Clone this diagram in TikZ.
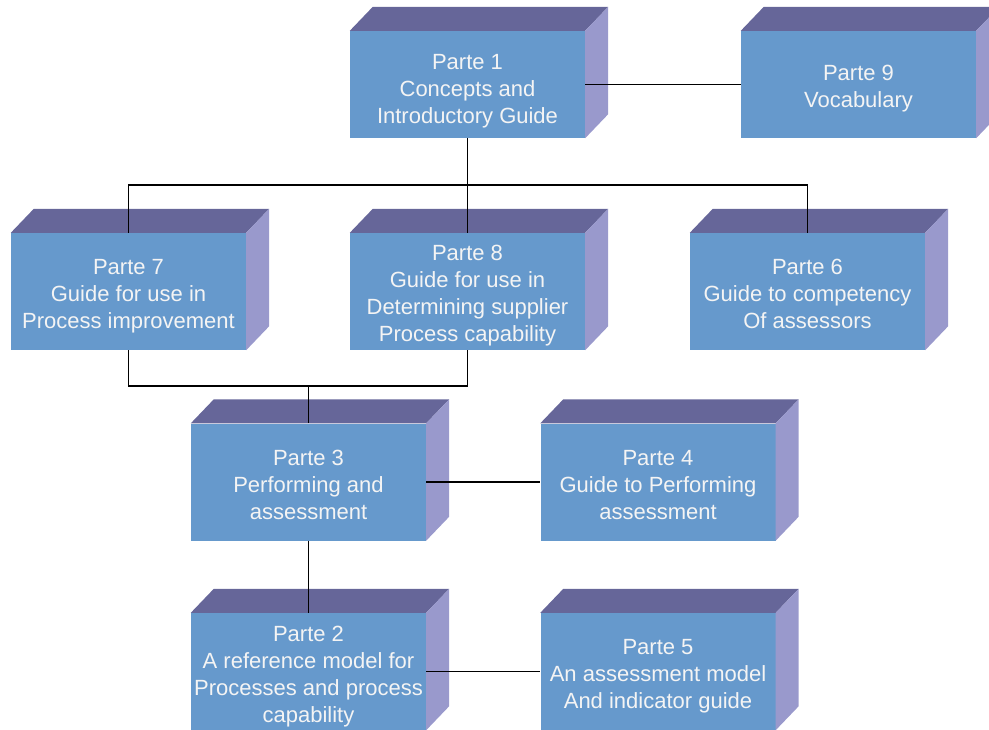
\documentclass[tikz,border=0pt]{standalone}
\usepackage{fontspec}
\setmainfont{Liberation Sans}
\definecolor{frontc}{RGB}{102,153,204}
\definecolor{topc}{RGB}{102,102,153}
\definecolor{sidec}{RGB}{153,153,204}
\definecolor{labelc}{RGB}{244,244,244}
% invisible strut that lowers a label inside its face
\newcommand{\lowerby}[1]{\rule{0pt}{#1}}
\tikzset{
  partbox/.style={rectangle, fill=frontc, inner sep=0pt, minimum width=235pt,
    minimum height=117pt, align=center, text=labelc,
    font=\fontsize{22}{27}\selectfont},
  shortbox/.style={partbox, minimum height=107pt},
  link/.style={draw=black, line width=1.5pt}
}
\begin{document}
\begin{tikzpicture}[x=1pt, y=-1pt]
  \useasboundingbox (0,0) rectangle (989,730);
  \clip (0,0) rectangle (989,730);

  % front faces of the parts
  \node[shortbox] (p1) at (467.5,84.5) {\lowerby{28pt}Parte 1\\Concepts and\\Introductory Guide};
  \node[shortbox] (p9) at (858.5,84.5) {\lowerby{24pt}Parte 9\\Vocabulary};
  \node[partbox] (p7) at (128.5,291.5) {\lowerby{24pt}Parte 7\\Guide for use in\\Process improvement};
  \node[partbox] (p8) at (467.5,291.5) {\lowerby{24pt}Parte 8\\Guide for use in\\Determining supplier\\Process capability};
  \node[partbox] (p6) at (807.5,291.5) {\lowerby{20pt}Parte 6\\Guide to competency\\Of assessors};
  \node[partbox] (p3) at (308.5,482) {\lowerby{21pt}Parte 3\\Performing and\\assessment};
  \node[partbox] (p4) at (658,482) {\lowerby{21pt}Parte 4\\Guide to Performing\\assessment};
  \node[partbox] (p2) at (308.5,671.5) {\lowerby{26pt}Parte 2\\A reference model for\\Processes and process\\capability};
  \node[partbox] (p5) at (658,671.5) {\lowerby{24pt}Parte 5\\An assessment model\\And indicator guide};

  % top and side faces giving each part its depth
  \foreach \n in {p1,p9,p7,p8,p6,p3,p4,p2,p5} {
    \fill[topc] (\n.north west) -- ++(23pt,24pt)
      -- ([shift={(23pt,24pt)}]\n.north east) -- (\n.north east) -- cycle;
    \fill[sidec] (\n.north east) -- ++(23pt,24pt)
      -- ([shift={(23pt,24pt)}]\n.south east) -- (\n.south east) -- cycle;
  }

  % connectors
  \coordinate (j1) at (467.5,185);
  \coordinate (j2) at (308.5,386);
  \draw[link] (p1.east) -- (p9.west);
  \draw[link] (p1.south) -- (j1);
  \draw[link] (p7.north) |- (j1) -| (p6.north);
  \draw[link] (j1) -- (p8.north);
  \draw[link] (p7.south) |- (j2) -| (p8.south);
  \draw[link] (j2) -- (p3.north);
  \draw[link] (p3.east) -- (p4.west);
  \draw[link] (p3.south) -- (p2.north);
  \draw[link] (p2.east) -- (p5.west);
\end{tikzpicture}
\end{document}
